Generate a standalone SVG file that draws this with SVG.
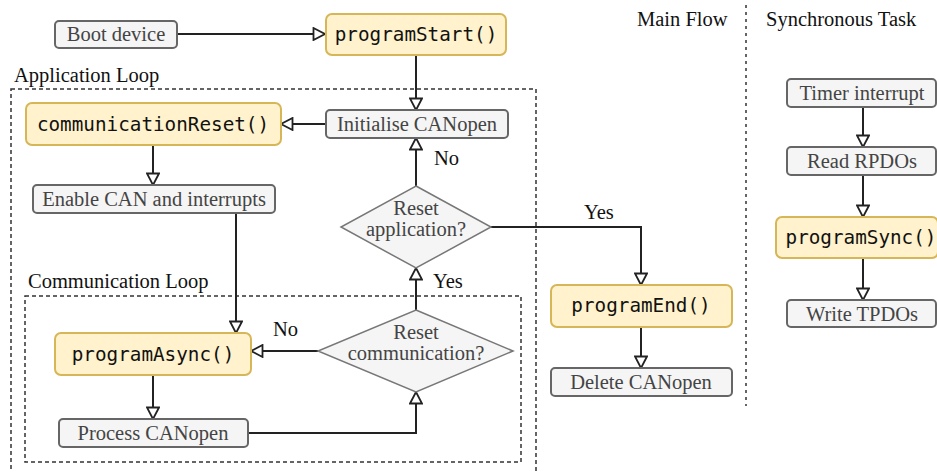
<svg xmlns="http://www.w3.org/2000/svg" width="937" height="472" viewBox="0 0 937 472">
<style>
.g{fill:#f5f5f5;stroke:#666;stroke-width:2}
.y{fill:#fff2cc;stroke:#d6b656;stroke-width:2}
.d{fill:#f5f5f5;stroke:#777;stroke-width:1.5}
.t{font-family:"Liberation Serif",serif;font-size:20.5px;fill:#444;text-anchor:middle}
.m{font-family:"DejaVu Sans Mono","Liberation Mono",monospace;font-size:19.3px;fill:#111;text-anchor:middle}
.l{font-family:"Liberation Serif",serif;font-size:20.5px;fill:#111}
.c{fill:none;stroke:#222;stroke-width:2}
.box{fill:none;stroke:#333;stroke-width:1.5;stroke-dasharray:4 3}
</style>
<defs>
<marker id="a" viewBox="0 0 14 14" refX="13" refY="7" markerWidth="14" markerHeight="14" markerUnits="userSpaceOnUse" orient="auto">
<path d="M1.5,1 L13,7 L1.5,13 Z" fill="#fff" stroke="#222" stroke-width="1.8"/>
</marker>
</defs>
<g id="containers">
<rect class="box" x="11" y="89" width="525" height="400"/>
<text class="l" x="14" y="82">Application Loop</text>
<rect class="box" x="25" y="296" width="496" height="166"/>
<text class="l" x="28" y="288">Communication Loop</text>
<line x1="746" y1="5" x2="746" y2="406" stroke="#333" stroke-width="1.5" stroke-dasharray="3 4"/>
<text class="l" x="637" y="26">Main Flow</text>
<text class="l" x="766" y="26">Synchronous Task</text>
</g>
<g id="connectors">
<path class="c" d="M177,34 H325" marker-end="url(#a)"/>
<path class="c" d="M416,55 V110" marker-end="url(#a)"/>
<path class="c" d="M326,124 H281" marker-end="url(#a)"/>
<path class="c" d="M153,145 V185" marker-end="url(#a)"/>
<path class="c" d="M236,213 V333" marker-end="url(#a)"/>
<path class="c" d="M318,351 H251" marker-end="url(#a)"/>
<path class="c" d="M153,375 V419" marker-end="url(#a)"/>
<path class="c" d="M248,433 H416 V392" marker-end="url(#a)"/>
<path class="c" d="M416,310 V268" marker-end="url(#a)"/>
<path class="c" d="M416,186 V138" marker-end="url(#a)"/>
<path class="c" d="M491,227 H641 V285" marker-end="url(#a)"/>
<path class="c" d="M641,327 V368" marker-end="url(#a)"/>
<path class="c" d="M863,107 V147" marker-end="url(#a)"/>
<path class="c" d="M863,175 V217" marker-end="url(#a)"/>
<path class="c" d="M863,258 V300" marker-end="url(#a)"/>
<text class="l" x="273" y="336" font-size="19">No</text>
<text class="l" x="434" y="165" font-size="19">No</text>
<text class="l" x="433" y="288" font-size="19">Yes</text>
<text class="l" x="584" y="219" font-size="19">Yes</text>
</g>
<g id="boot"><rect class="g" x="55" y="21" width="122" height="27" rx="4"/><text class="t" x="116" y="41">Boot device</text></g>
<g id="programStart"><rect class="y" x="326" y="14" width="180" height="41" rx="6"/><text class="m" x="416" y="41">programStart()</text></g>
<g id="initialise"><rect class="g" x="326" y="110" width="182" height="28" rx="4"/><text class="t" x="417" y="131">Initialise CANopen</text></g>
<g id="communicationReset"><rect class="y" x="26" y="103" width="255" height="42" rx="6"/><text class="m" x="153" y="131">communicationReset()</text></g>
<g id="enable"><rect class="g" x="33" y="185" width="242" height="28" rx="4"/><text class="t" x="154" y="206">Enable CAN and interrupts</text></g>
<g id="programAsync"><rect class="y" x="55" y="333" width="196" height="42" rx="6"/><text class="m" x="153" y="361">programAsync()</text></g>
<g id="process"><rect class="g" x="59" y="419" width="189" height="28" rx="4"/><text class="t" x="153" y="440">Process CANopen</text></g>
<g id="resetComm"><path class="d" d="M416,310 L513,351 L416,392 L318,351 Z"/><text class="t" x="416" y="339">Reset</text><text class="t" x="416" y="360">communication?</text></g>
<g id="resetApp"><path class="d" d="M416,186 L491,227 L416,268 L341,227 Z"/><text class="t" x="416" y="215">Reset</text><text class="t" x="416" y="236">application?</text></g>
<g id="programEnd"><rect class="y" x="551" y="285" width="181" height="42" rx="6"/><text class="m" x="641" y="312">programEnd()</text></g>
<g id="delete"><rect class="g" x="551" y="368" width="181" height="28" rx="4"/><text class="t" x="641" y="389">Delete CANopen</text></g>
<g id="timer"><rect class="g" x="787" y="79" width="149" height="28" rx="4"/><text class="t" x="862" y="100">Timer interrupt</text></g>
<g id="read"><rect class="g" x="787" y="147" width="149" height="28" rx="4"/><text class="t" x="862" y="168">Read RPDOs</text></g>
<g id="programSync"><rect class="y" x="776" y="217" width="162" height="41" rx="6"/><text class="m" x="861" y="244">programSync()</text></g>
<g id="write"><rect class="g" x="787" y="300" width="149" height="27" rx="4"/><text class="t" x="862" y="321">Write TPDOs</text></g>
</svg>
